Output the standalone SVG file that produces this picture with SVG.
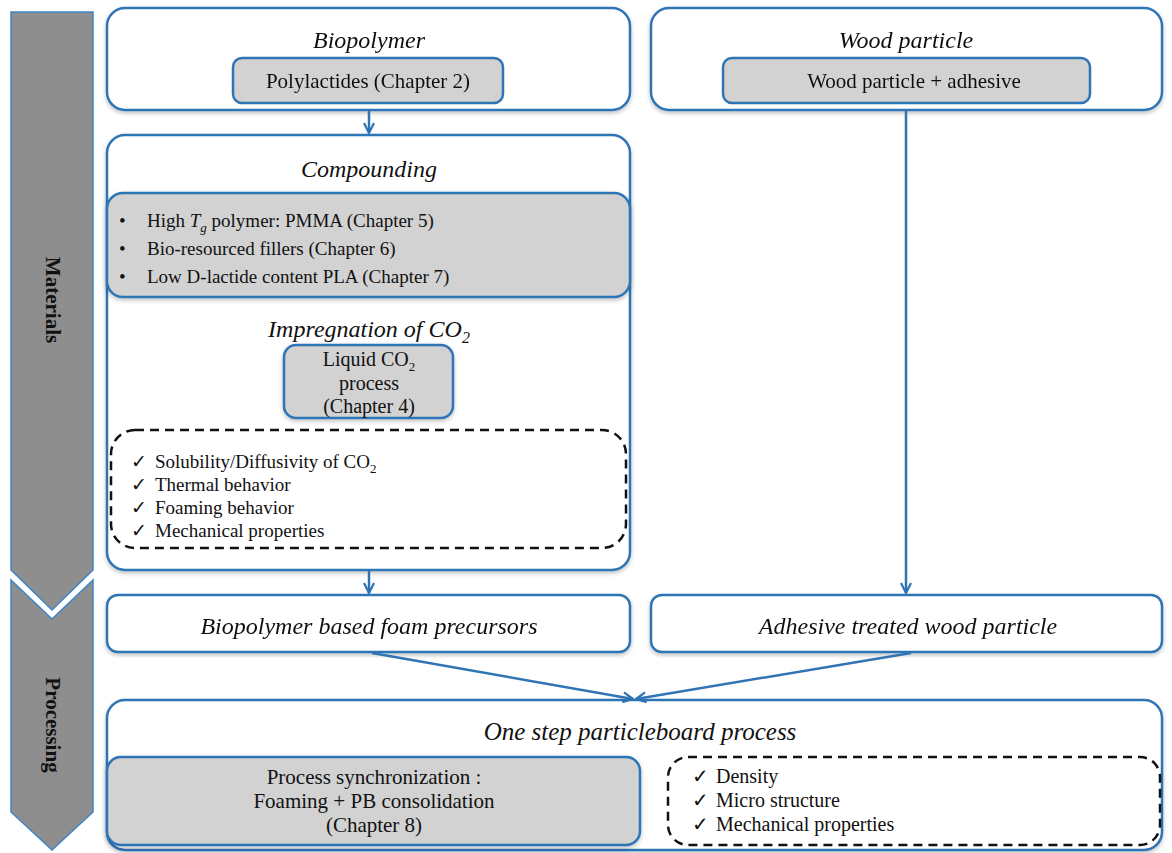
<svg xmlns="http://www.w3.org/2000/svg" width="1172" height="853" viewBox="0 0 1172 853" font-family="'Liberation Serif', 'DejaVu Serif', serif">
<defs>
<style>
.outer{fill:#fff;stroke:#2f74b5;stroke-width:2.5}
.gray{fill:#d2d2d2;stroke:#2f74b5;stroke-width:2.5}
.dash{fill:none;stroke:#111;stroke-width:2.5;stroke-dasharray:9,6}
.bar{fill:#8e8e8e;stroke:#3d85c6;stroke-width:1.5}
.conn{fill:none;stroke:#2f74b5;stroke-width:2.5}
text{font-family:'Liberation Serif','DejaVu Serif',serif;fill:#111}
.title{font-size:24px;font-style:italic;text-anchor:middle}
.body{font-size:19px}
.b20{font-size:20px}
.big{font-size:21px}
.t25{font-size:25px}
.mid{text-anchor:middle}
.side{font-size:21px;font-weight:bold;text-anchor:middle}
</style>
<filter id="sh" x="-5%" y="-5%" width="110%" height="115%">
<feDropShadow dx="0" dy="2" stdDeviation="2" flood-color="#000" flood-opacity="0.25"/>
</filter>
<marker id="ah" viewBox="0 0 12 12" refX="11" refY="6" markerWidth="12" markerHeight="12" markerUnits="userSpaceOnUse" orient="auto">
<path d="M1,1 L11,6 L1,11" fill="none" stroke="#2f74b5" stroke-width="2.2"/>
</marker>
</defs>

<g id="side-bar">
<path class="bar" d="M11,12 H93 V570 L52,610 L11,570 Z"/>
<path class="bar" d="M11,580 L52,619 L93,580 V812 L52,850 L11,812 Z"/>
<text class="side" transform="translate(46,300) rotate(90)">Materials</text>
<text class="side" transform="translate(46,725) rotate(90)">Processing</text>
</g>

<g id="biopolymer" filter="url(#sh)">
<rect class="outer" x="107" y="8" width="523" height="102" rx="18"/>
<text class="title" x="369" y="48">Biopolymer</text>
<rect class="gray" x="233" y="58" width="270" height="45" rx="9"/>
<text class="big mid" x="368" y="88">Polylactides (Chapter 2)</text>
</g>

<g id="wood-particle" filter="url(#sh)">
<rect class="outer" x="651" y="8" width="511" height="102" rx="18"/>
<text class="title" x="906" y="48">Wood particle</text>
<rect class="gray" x="723" y="58" width="367" height="45" rx="9"/>
<text class="big mid" x="914" y="88">Wood particle + adhesive</text>
</g>

<g id="compounding">
<rect class="outer" x="107" y="135" width="523" height="435" rx="18" filter="url(#sh)"/>
<text class="title" x="369" y="177">Compounding</text>
<rect class="gray" x="107" y="193" width="523" height="104" rx="16" filter="url(#sh)"/>
<text class="body"><tspan x="119" y="227">•</tspan><tspan x="147" y="227">High <tspan font-style="italic">T</tspan><tspan font-style="italic" font-size="13" dy="5">g</tspan><tspan dy="-5"> polymer: PMMA (Chapter 5)</tspan></tspan></text>
<text class="body"><tspan x="119" y="255">•</tspan><tspan x="147" y="255">Bio-resourced fillers (Chapter 6)</tspan></text>
<text class="body"><tspan x="119" y="283">•</tspan><tspan x="147" y="283">Low D-lactide content PLA (Chapter 7)</tspan></text>
<text class="title" x="369" y="337">Impregnation of CO<tspan font-size="16" dy="6">2</tspan></text>
<rect class="gray" x="284" y="345" width="169" height="73" rx="12" filter="url(#sh)"/>
<text class="b20 mid" x="369" y="366">Liquid CO<tspan font-size="13" dy="5">2</tspan></text>
<text class="b20 mid" x="369" y="390">process</text>
<text class="b20 mid" x="369" y="413">(Chapter 4)</text>
<rect class="dash" x="111" y="430" width="515" height="118" rx="24"/>
<text class="body"><tspan x="131" y="468">✓</tspan><tspan x="155" y="468">Solubility/Diffusivity of CO<tspan font-size="13" dy="5">2</tspan></tspan></text>
<text class="body"><tspan x="131" y="491">✓</tspan><tspan x="155" y="491">Thermal behavior</tspan></text>
<text class="body"><tspan x="131" y="514">✓</tspan><tspan x="155" y="514">Foaming behavior</tspan></text>
<text class="body"><tspan x="131" y="537">✓</tspan><tspan x="155" y="537">Mechanical properties</tspan></text>
</g>

<g id="foam-precursors" filter="url(#sh)">
<rect class="outer" x="107" y="595" width="523" height="57" rx="11"/>
<text class="title" x="369" y="634">Biopolymer based foam precursors</text>
</g>

<g id="treated-wood" filter="url(#sh)">
<rect class="outer" x="651" y="595" width="511" height="57" rx="11"/>
<text class="title" x="908" y="634">Adhesive treated wood particle</text>
</g>

<g id="particleboard">
<rect class="outer" x="107" y="700" width="1055" height="150" rx="18" filter="url(#sh)"/>
<text class="title t25" x="640" y="740">One step particleboard process</text>
<rect class="gray" x="107" y="757" width="533" height="88" rx="14" filter="url(#sh)"/>
<text class="big mid" x="374" y="784">Process synchronization :</text>
<text class="big mid" x="374" y="808">Foaming + PB consolidation</text>
<text class="big mid" x="374" y="832">(Chapter 8)</text>
<rect class="dash" x="668" y="757" width="492" height="88" rx="20"/>
<text class="b20"><tspan x="692" y="783">✓</tspan><tspan x="716" y="783">Density</tspan></text>
<text class="b20"><tspan x="692" y="807">✓</tspan><tspan x="716" y="807">Micro structure</tspan></text>
<text class="b20"><tspan x="692" y="831">✓</tspan><tspan x="716" y="831">Mechanical properties</tspan></text>
</g>

<g id="connectors">
<line class="conn" x1="369" y1="110" x2="369" y2="133" marker-end="url(#ah)"/>
<line class="conn" x1="906" y1="110" x2="906" y2="593" marker-end="url(#ah)"/>
<line class="conn" x1="369" y1="570" x2="369" y2="593" marker-end="url(#ah)"/>
<line class="conn" x1="372" y1="653" x2="633" y2="699" marker-end="url(#ah)"/>
<line class="conn" x1="911" y1="653" x2="636" y2="699" marker-end="url(#ah)"/>
</g>
</svg>
